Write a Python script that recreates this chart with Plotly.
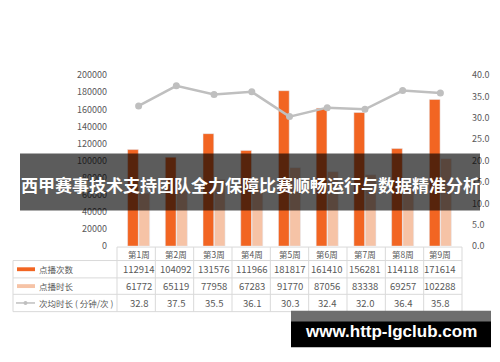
import plotly.graph_objects as go

weeks = ["第1周", "第2周", "第3周", "第4周", "第5周", "第6周", "第7周", "第8周", "第9周"]
plays = [112914, 104092, 131576, 111966, 181817, 161410, 156281, 114118, 171614]
play_time = [61772, 65119, 77958, 67283, 91770, 87056, 83338, 69257, 102288]
avg_time = [32.8, 37.5, 35.5, 36.1, 30.3, 32.4, 32.0, 36.4, 35.8]
series_names = ["点播次数", "点播时长", "次均时长 ( 分钟/次 )"]
left_ticks = [0, 20000, 40000, 60000, 80000, 100000, 120000, 140000, 160000, 180000, 200000]
right_ticks = [0, 5, 10, 15, 20, 25, 30, 35, 40]
banner_text = "西甲赛事技术支持团队全力保障比赛顺畅运行与数据精准分析"
watermark_text = "www.http-lgclub.com"

W, H = 500, 362
def X(px): return px / W
def Y(py): return 1 - py / H

DARK = "#F26522"
LIGHT = "#F6C3A6"
GRAY = "#BFBFBF"
TXT = "#595959"
GRID = "#D9D9D9"
FONT = "Noto Sans CJK SC"

plot_left, plot_right = 117, 462
y_zero, y_top = 248, 70.7

fig = go.Figure()
fig.add_trace(go.Bar(x=weeks, y=plays, name=series_names[0], marker_color=DARK, yaxis="y"))
fig.add_trace(go.Bar(x=weeks, y=play_time, name=series_names[1], marker_color=LIGHT, yaxis="y"))
fig.add_trace(go.Scatter(x=weeks, y=avg_time, name=series_names[2], mode="lines+markers",
                         line=dict(color=GRAY, width=2.5), marker=dict(color=GRAY, size=7),
                         yaxis="y2"))

shapes = []
annotations = []

col_w = (plot_right - plot_left) / len(weeks)
rows_y = [249, 263, 281, 298, 316]
label_left = 13
line = dict(color=GRID, width=1)
shapes.append(dict(type="line", xref="paper", yref="paper", x0=X(plot_left), x1=X(plot_right),
                   y0=Y(rows_y[0]), y1=Y(rows_y[0]), line=line))
for ry in rows_y[1:]:
    shapes.append(dict(type="line", xref="paper", yref="paper", x0=X(label_left), x1=X(plot_right),
                       y0=Y(ry), y1=Y(ry), line=line))
for i in range(len(weeks) + 1):
    xx = plot_left + i * col_w
    shapes.append(dict(type="line", xref="paper", yref="paper", x0=X(xx), x1=X(xx),
                       y0=Y(rows_y[0]), y1=Y(rows_y[-1]), line=line))
shapes.append(dict(type="line", xref="paper", yref="paper", x0=X(label_left), x1=X(label_left),
                   y0=Y(rows_y[1]), y1=Y(rows_y[-1]), line=line))

row_centers = [(rows_y[i] + rows_y[i + 1]) / 2 for i in range(4)]
nf = dict(family=FONT, size=9.5, color=TXT)
hf = dict(family=FONT, size=8.5, color=TXT)
lf = dict(family=FONT, size=8.5, color=TXT)
for i, w in enumerate(weeks):
    annotations.append(dict(x=w, xref="x", y=Y(row_centers[0]), yref="paper", text=w,
                            showarrow=False, font=hf, xanchor="center", yanchor="middle"))
    annotations.append(dict(x=w, xref="x", y=Y(row_centers[1]), yref="paper", text=str(plays[i]),
                            showarrow=False, font=nf, xanchor="center", yanchor="middle"))
    annotations.append(dict(x=w, xref="x", y=Y(row_centers[2]), yref="paper", text=str(play_time[i]),
                            showarrow=False, font=nf, xanchor="center", yanchor="middle"))
    annotations.append(dict(x=w, xref="x", y=Y(row_centers[3]), yref="paper", text=f"{avg_time[i]:.1f}",
                            showarrow=False, font=nf, xanchor="center", yanchor="middle"))

for k, name in enumerate(series_names):
    cy = row_centers[k + 1]
    if k < 2:
        shapes.append(dict(type="rect", xref="paper", yref="paper", x0=X(17), x1=X(35),
                           y0=Y(cy + 2), y1=Y(cy - 2), fillcolor=[DARK, LIGHT][k], line=dict(width=0)))
    else:
        shapes.append(dict(type="line", xref="paper", yref="paper", x0=X(16), x1=X(35),
                           y0=Y(cy), y1=Y(cy), line=dict(color=GRAY, width=1.5)))
        shapes.append(dict(type="circle", xref="paper", yref="paper", x0=X(23.5), x1=X(27.5),
                           y0=Y(cy + 2), y1=Y(cy - 2), fillcolor=GRAY, line=dict(width=0)))
    annotations.append(dict(x=X(37), xref="paper", y=Y(cy), yref="paper", text=name,
                            showarrow=False, font=lf, xanchor="left", yanchor="middle"))

shapes.append(dict(type="rect", xref="paper", yref="paper", x0=X(20), x1=X(480),
                   y0=Y(211), y1=Y(152), fillcolor="rgba(0,0,0,0.64)", line=dict(width=0),
                   layer="above"))
annotations.append(dict(x=X(250), xref="paper", y=Y(184), yref="paper", text=f"<b>{banner_text}</b>",
                        showarrow=False, font=dict(family=FONT, size=17, color="white"),
                        xanchor="center", yanchor="middle"))

shapes.append(dict(type="rect", xref="paper", yref="paper", x0=X(291), x1=X(491),
                   y0=Y(326), y1=Y(315), fillcolor="#6E6E6E", line=dict(width=0), layer="above"))
shapes.append(dict(type="rect", xref="paper", yref="paper", x0=X(291), x1=X(491),
                   y0=Y(353), y1=Y(326), fillcolor="#000000", line=dict(width=0), layer="above"))
annotations.append(dict(x=X(391), xref="paper", y=Y(337), yref="paper", text=f"<b>{watermark_text}</b>",
                        showarrow=False, font=dict(family="Liberation Sans", size=17, color="white"),
                        xanchor="center", yanchor="middle"))

fig.update_layout(
    width=W, height=H, margin=dict(l=0, r=0, t=0, b=0),
    paper_bgcolor="white", plot_bgcolor="white",
    showlegend=False, barmode="group", bargap=0.4, bargroupgap=0.05,
    font=dict(family=FONT, color=TXT, size=9),
    xaxis=dict(domain=[X(plot_left), X(plot_right)], showticklabels=False, showgrid=False,
               showline=False, zeroline=False, ticks=""),
    yaxis=dict(domain=[Y(y_zero), Y(y_top)], range=[0, 200000], tickvals=left_ticks,
               tickformat="d", showgrid=False, zeroline=False, showline=False, ticks="",
               tickfont=dict(family=FONT, size=9, color=TXT), ticklabelstandoff=9),
    yaxis2=dict(overlaying="y", side="right", range=[0, 40], tickvals=right_ticks,
                tickformat=".1f", showgrid=False, zeroline=False, showline=False, ticks="",
                tickfont=dict(family=FONT, size=9, color=TXT), ticklabelstandoff=9),
    shapes=shapes, annotations=annotations,
)

fig.write_html("out.html")
